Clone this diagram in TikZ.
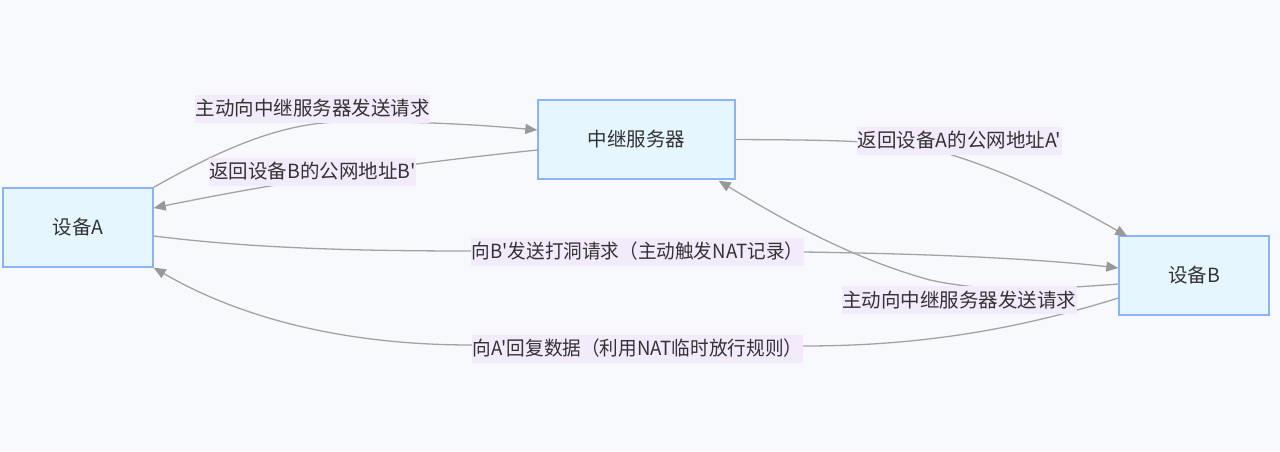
\documentclass[tikz,border=0pt]{standalone}
\usepackage{fontspec}
\setmainfont{Noto Sans CJK SC}[Ligatures=TeXOff]
\usetikzlibrary{arrows.meta,calc}
\definecolor{bgc}{HTML}{F8F9FC}
\definecolor{nodefill}{HTML}{E6F6FF}
\definecolor{nodeline}{HTML}{8AB4F8}
\definecolor{lblbg}{HTML}{F3EAFC}
\definecolor{edgec}{HTML}{A3A3A3}
\definecolor{tipc}{HTML}{999999}
\definecolor{txt}{HTML}{333333}
\begin{document}
\begin{tikzpicture}[x=1pt,y=-1pt,
  every node/.style={font=\fontsize{19.5}{20}\selectfont, text=txt},
  box/.style={draw=nodeline, fill=nodefill, line width=1.4pt, minimum width=150pt, minimum height=79pt, inner sep=0pt},
  lbl/.style={fill=lblbg, inner xsep=0.5pt, inner ysep=0pt, minimum height=28pt},
  conn/.style={draw=edgec, line width=1.3pt, -{Triangle[length=12pt,width=10pt,fill=tipc,color=tipc]}}
]
\useasboundingbox (0,0) rectangle (1280,451);
\fill[bgc] (0,0) rectangle (1280,451);

\node[box] (A) at (78,227.5) {设备A};
\node[box, minimum width=197pt] (S) at (636.5,139.5) {中继服务器};
\node[box] (B) at (1194,275.5) {设备B};

% connectors
\draw[conn] (A.north east) .. controls (220,150) and (280,123) .. (340,122)
  .. controls (410,121) and (470,124) .. ($(S.west)+(0,-9.5)$);
\draw[conn] ($(S.west)+(0,10.5)$) .. controls (430,161) and (300,178) .. ($(A.east)+(0,-19.5)$);
\draw[conn] (S.east) .. controls (820,140) and (880,140) .. (935,150)
  .. controls (1000,168) and (1060,198) .. ($(B.north west)+(9,1)$);
\draw[conn] ($(A.east)+(0,8.5)$) .. controls (250,248) and (350,251) .. (472,251)
  -- (803,252) .. controls (950,254) and (1050,260) .. ($(B.west)+(0,-7.5)$);
\draw[conn] ($(B.west)+(0,8.5)$) .. controls (1040,290) and (985,292) .. (930,280)
  .. controls (850,258) and (780,218) .. ($(S.south east)+(-17,1)$);
\draw[conn] ($(B.west)+(0,22.5)$) .. controls (1000,335) and (900,346) .. (803,346)
  -- (472,345) .. controls (330,345) and (230,312) .. (A.south east);

% labels
\node[lbl] (l1) at (312.5,108.5) {主动向中继服务器发送请求};
\node[lbl] (l2) at (312.5,171.5) {返回设备B的公网地址B'};
\node[lbl] (l3) at (959.5,140.5) {返回设备A的公网地址A'};
\node[lbl] (l4) at (637.5,251.5) {\scalebox{0.955}[1]{向B'发送打洞请求（主动触发NAT记录）}};
\node[lbl] (l5) at (959,300) {主动向中继服务器发送请求};
\node[lbl] (l6) at (637.5,348.5) {\scalebox{0.955}[1]{向A'回复数据（利用NAT临时放行规则）}};
\end{tikzpicture}
\end{document}
